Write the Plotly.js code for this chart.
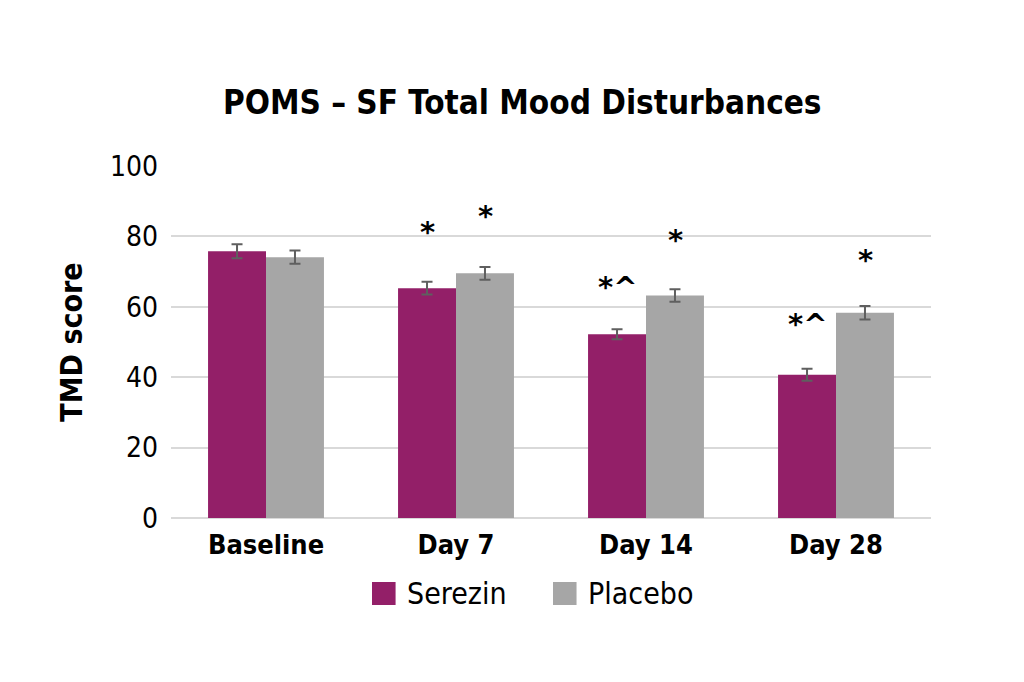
<!DOCTYPE html>
<html>
<head>
<meta charset="utf-8">
<script src="https://cdn.plot.ly/plotly-3.0.1.min.js"></script>
<style>body{margin:0;background:#fff}#chart{width:1024px;height:682px}</style>
</head>
<body>
<div id="chart"></div>
<script>
const categories = ["Baseline", "Day 7", "Day 14", "Day 28"];
const seriesNames = ["Serezin", "Placebo"];
const seriesColors = ["#931F68", "#A6A6A6"];
const serezin = [75.8, 65.3, 52.2, 40.7];
const serezinErr = [2.0, 1.8, 1.4, 1.7];
const placebo = [74.1, 69.5, 63.2, 58.3];
const placeboErr = [1.9, 1.8, 1.8, 1.9];
const yTicks = [0, 20, 40, 60, 80, 100];
// significance markers: [category index, series (0 Serezin, 1 Placebo), label, y]
const markCat = [1, 1, 2, 2, 3, 3];
const markSeries = [0, 1, 0, 1, 0, 1];
const markText = ["*", "*", "*^", "*", "*^", "*"];
const markY = [81.3, 85.8, 65.6, 79.1, 55.1, 73.4];

const FONT = "'DejaVu Sans Condensed', 'Liberation Sans Narrow', sans-serif";
const errStyle = {type: 'data', visible: true, color: '#5f5f5f', thickness: 2, width: 5.5};

const traces = [
  {type: 'bar', name: seriesNames[0], x: categories, y: serezin,
   error_y: Object.assign({array: serezinErr}, errStyle),
   marker: {color: seriesColors[0]}},
  {type: 'bar', name: seriesNames[1], x: categories, y: placebo,
   error_y: Object.assign({array: placeboErr}, errStyle),
   marker: {color: seriesColors[1]}}
];

const annotations = markText.map((t, i) => ({
  x: categories[markCat[i]], y: markY[i], xref: 'x', yref: 'y',
  text: t.replace('^', '<b>^</b>'), showarrow: false,
  xshift: markSeries[i] === 0 ? -29 : 29,
  font: {family: 'DejaVu Sans', size: 29, color: '#000', weight: 'bold'}
}));

// custom legend (larger swatches like the reference)
const legendSquareX = [0.2645, 0.5026];
const shapes = [];
seriesNames.forEach((n, i) => {
  shapes.push({type: 'rect', xref: 'paper', yref: 'paper',
    x0: legendSquareX[i], x1: legendSquareX[i] + 0.031, y0: -0.2472, y1: -0.1818,
    fillcolor: seriesColors[i], line: {width: 0}});
  annotations.push({xref: 'paper', yref: 'paper', x: legendSquareX[i] + 0.0434, y: -0.2131,
    xanchor: 'left', yanchor: 'middle', showarrow: false, text: n,
    font: {family: FONT, size: 30, color: '#000'}});
});

const layout = {
  width: 1024, height: 682,
  margin: {l: 171, r: 93, t: 166, b: 164},
  paper_bgcolor: '#fff', plot_bgcolor: '#fff',
  title: {text: '<b>POMS – SF Total Mood Disturbances</b>', x: 0.51, xanchor: 'center', y: 0.85, yanchor: 'middle',
          font: {family: FONT, size: 33, color: '#000'}},
  barmode: 'group', bargap: 0.39, bargroupgap: 0,
  xaxis: {tickfont: {family: FONT, size: 27, color: '#000', weight: 'bold'}, showline: false, ticks: '',
          tickprefix: '<b>', ticksuffix: '</b>', ticklabelstandoff: 8},
  yaxis: {range: [0, 100], tickvals: yTicks, ticktext: yTicks.map(String), showgrid: true, gridcolor: '#d9d9d9', gridwidth: 2,
          zeroline: true, zerolinecolor: '#d9d9d9', zerolinewidth: 2,
          tickfont: {family: FONT, size: 28, color: '#000'}, ticks: '', ticklabelstandoff: 12,
          title: {text: '<b>TMD score</b>', font: {family: FONT, size: 30, color: '#000'}, standoff: 18}},
  showlegend: false,
  annotations: annotations,
  shapes: shapes
};

Plotly.newPlot('chart', traces, layout, {displayModeBar: false, staticPlot: true});
</script>
</body>
</html>
